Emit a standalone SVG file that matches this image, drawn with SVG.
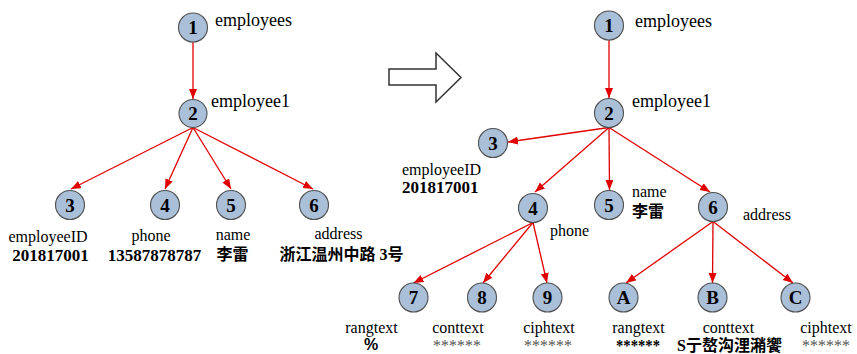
<svg xmlns="http://www.w3.org/2000/svg" width="857" height="354" viewBox="0 0 857 354">
<style>
.n circle{fill:#aabfd8;stroke:#505050;stroke-width:1.1}
.num{font-family:"Liberation Serif",serif;font-weight:bold;font-size:19px;text-anchor:middle;fill:#000}
.t18{font-family:"Liberation Serif",serif;font-size:18px;fill:#000}
.t{font-family:"Liberation Serif",serif;font-size:16px;fill:#000}
.c{text-anchor:middle}
.v{font-family:"Liberation Serif","Noto Sans CJK SC",sans-serif;font-weight:bold;font-size:17px;fill:#000}
.cjk{font-family:"Liberation Serif","Noto Sans CJK SC",sans-serif;font-weight:bold;font-size:16px;fill:#000}
.pct{font-family:"Liberation Sans",sans-serif;font-weight:bold;font-size:16px;fill:#000}
.star{font-family:"Liberation Serif",serif;font-size:16px;fill:#555}
.e line{stroke:#e00000;stroke-width:1.3;fill:none;marker-end:url(#ah)}
</style>
<defs>
<marker id="ah" markerUnits="userSpaceOnUse" markerWidth="11" markerHeight="9" refX="10" refY="4" orient="auto">
<path d="M0,0 L10,4 L0,8 z" fill="#e00000"/>
</marker>
</defs>
<rect width="857" height="354" fill="#fff"/>
<g id="connectors" class="e">
<line x1="193" y1="41.5" x2="193" y2="99"/>
<line x1="193" y1="127.5" x2="71" y2="189"/>
<line x1="193" y1="127.5" x2="165" y2="189"/>
<line x1="193" y1="127.5" x2="231" y2="189"/>
<line x1="193" y1="127.5" x2="313" y2="189"/>
<line x1="609" y1="40" x2="609" y2="98"/>
<line x1="609" y1="127.5" x2="508" y2="142"/>
<line x1="609" y1="127.5" x2="535" y2="192"/>
<line x1="609" y1="127.5" x2="609.5" y2="190"/>
<line x1="609" y1="127.5" x2="710" y2="192"/>
<line x1="533" y1="222.5" x2="413.5" y2="283"/>
<line x1="533" y1="222.5" x2="483" y2="283"/>
<line x1="533" y1="222.5" x2="547" y2="283"/>
<line x1="713" y1="221.5" x2="626" y2="283"/>
<line x1="713" y1="221.5" x2="712.5" y2="283"/>
<line x1="713" y1="221.5" x2="793" y2="283"/>
</g>
<g id="bigarrow">
<polygon points="389,69 436,69 436,53 461,77.5 436,102 436,85 389,85" fill="#fff" stroke="#333" stroke-width="1.5"/>
</g>
<g id="L1" class="n"><circle cx="193" cy="27.5" r="14.5"/><text class="num" x="193" y="34">1</text><text class="t18" x="215" y="26">employees</text></g>
<g id="L2" class="n"><circle cx="193" cy="113.5" r="14"/><text class="num" x="193" y="120">2</text><text class="t18" x="211" y="107">employee1</text></g>
<g id="L3" class="n"><circle cx="70" cy="205" r="14.5"/><text class="num" x="70" y="211.5">3</text><text class="t c" x="48" y="242">employeeID</text><text class="v c" x="50.5" y="261">201817001</text></g>
<g id="L4" class="n"><circle cx="165" cy="205" r="14.5"/><text class="num" x="165" y="211.5">4</text><text class="t c" x="151" y="241">phone</text><text class="v c" x="154.5" y="261">13587878787</text></g>
<g id="L5" class="n"><circle cx="231" cy="205" r="14.5"/><text class="num" x="231" y="211.5">5</text><text class="t c" x="233" y="240">name</text><text class="cjk c" x="232.5" y="260">李雷</text></g>
<g id="L6" class="n"><circle cx="314" cy="205" r="14.5"/><text class="num" x="314" y="211.5">6</text><text class="t c" x="338.5" y="239">address</text><text class="cjk c" x="341.5" y="260">浙江温州中路 3号</text></g>
<g id="R1" class="n"><circle cx="609" cy="25.5" r="14.5"/><text class="num" x="609" y="32">1</text><text class="t18" x="635" y="27">employees</text></g>
<g id="R2" class="n"><circle cx="609" cy="113" r="14.5"/><text class="num" x="609" y="119.5">2</text><text class="t18" x="632" y="107">employee1</text></g>
<g id="R3" class="n"><circle cx="493" cy="143" r="14.5"/><text class="num" x="493" y="149.5">3</text><text class="t" x="402" y="175">employeeID</text><text class="v" x="402" y="193">201817001</text></g>
<g id="R4" class="n"><circle cx="533" cy="208" r="14.5"/><text class="num" x="533" y="214.5">4</text><text class="t" x="550" y="236">phone</text></g>
<g id="R5" class="n"><circle cx="609" cy="205" r="14.5"/><text class="num" x="609" y="211.5">5</text><text class="t" x="632" y="197">name</text><text class="cjk" x="632" y="217">李雷</text></g>
<g id="R6" class="n"><circle cx="713" cy="207" r="14.5"/><text class="num" x="713" y="213.5">6</text><text class="t" x="743" y="220">address</text></g>
<g id="R7" class="n"><circle cx="413.5" cy="297.5" r="14.5"/><text class="num" x="413.5" y="304">7</text><text class="t c" x="371.5" y="333">rangtext</text><text class="pct c" x="371" y="350">%</text></g>
<g id="R8" class="n"><circle cx="482" cy="297.5" r="14.5"/><text class="num" x="482" y="304">8</text><text class="t c" x="458" y="333">conttext</text><text class="star c" x="457" y="351">******</text></g>
<g id="R9" class="n"><circle cx="547.5" cy="297.5" r="14.5"/><text class="num" x="547.5" y="304">9</text><text class="t c" x="549" y="333">ciphtext</text><text class="star c" x="548" y="351">******</text></g>
<g id="RA" class="n"><circle cx="623.5" cy="297.5" r="14.5"/><text class="num" x="623.5" y="304">A</text><text class="t c" x="638.5" y="333">rangtext</text><text class="v c" x="638" y="351" textLength="44" lengthAdjust="spacingAndGlyphs">******</text></g>
<g id="RB" class="n"><circle cx="712.5" cy="297.5" r="14.5"/><text class="num" x="712.5" y="304">B</text><text class="t c" x="728.5" y="333">conttext</text><text class="cjk c" x="729.5" y="351">S亍嶅沟浬潲饗</text></g>
<g id="RC" class="n"><circle cx="795.5" cy="297.5" r="14.5"/><text class="num" x="795.5" y="304">C</text><text class="t c" x="826" y="333">ciphtext</text><text class="star c" x="826" y="351">******</text></g>
</svg>
